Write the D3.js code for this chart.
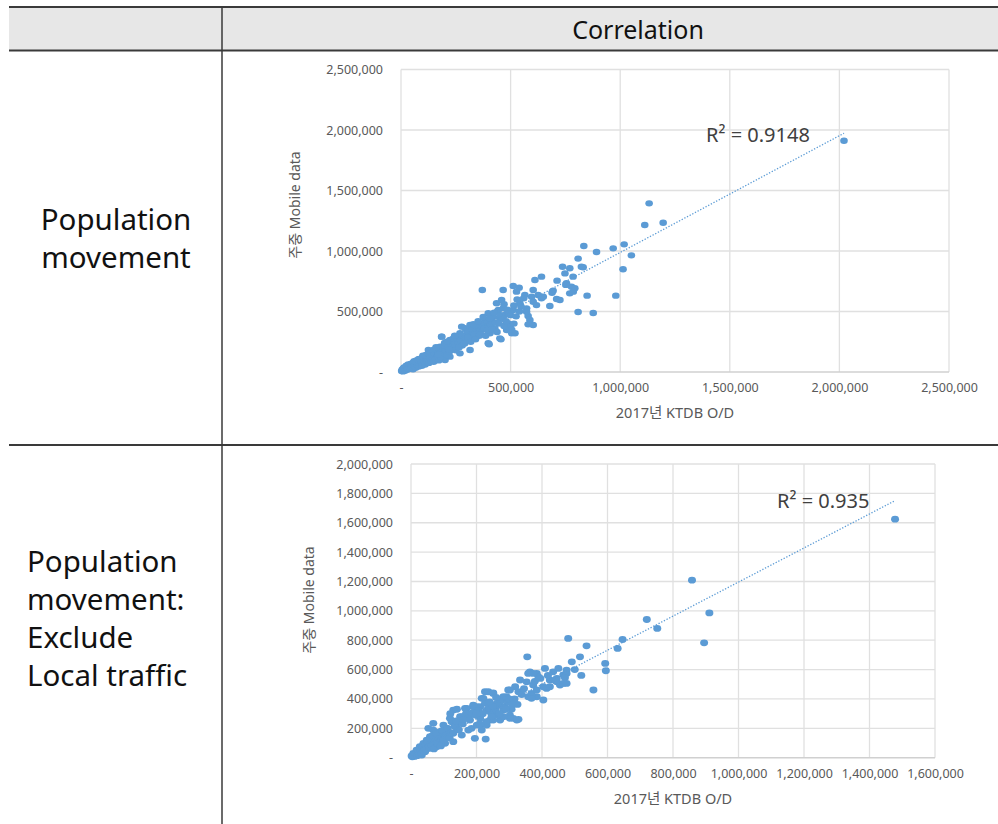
<!DOCTYPE html>
<html>
<head>
<meta charset="utf-8">
<script src="https://cdn.jsdelivr.net/npm/d3@7"></script>
<style>
  html, body { margin: 0; padding: 0; background: #fff; }
  svg { display: block; }
</style>
</head>
<body>
<svg id="chart" width="998" height="824"></svg>
<script>
// ---------- DATA (values in thousands of trips) ----------
const UNIT = 1000;
const headerTitle = "Correlation";
const rowLabels1 = ["Population", "movement"];
const rowLabels2 = ["Population", "movement:", "Exclude", "Local traffic"];
const xAxisTitle = "2017년 KTDB O/D";
const yAxisTitle = "주중 Mobile data";

const xTicks1 = [0, 500000, 1000000, 1500000, 2000000, 2500000];
const yTicks1 = [0, 500000, 1000000, 1500000, 2000000, 2500000];
const xTicks2 = [0, 200000, 400000, 600000, 800000, 1000000, 1200000, 1400000, 1600000];
const yTicks2 = [0, 200000, 400000, 600000, 800000, 1000000, 1200000, 1400000, 1600000, 1800000, 2000000];

const r2Label1 = "R² = 0.9148";
const r2Label2 = "R² = 0.935";
const trend1 = { slope: 0.965, intercept: 23000, xMin: 0, xMax: 2021000 };
const trend2 = { slope: 1.16, intercept: 36000, xMin: 0, xMax: 1478000 };

// Chart 1: Population movement  [KTDB O/D, Mobile data] (thousands)
const popMove = [
  [2021,1911],[1132,1394],[1112,1215],[1196,1234],[1018,1055],[968,1022],[1051,964],[1013,849],[980,631],[834,1041],
  [892,992],[808,937],[831,866],[737,870],[770,857],[748,815],[785,788],[712,755],[641,788],[611,760],
  [755,733],[778,705],[793,692],[694,672],[770,650],[849,631],[710,603],[679,545],[808,496],[877,488],
  [512,711],[466,678],[371,678],[539,697],[527,664],[565,636],[603,678],[596,622],[626,636],[641,609],
  [542,568],[603,581],[618,553],[573,526],[580,463],[588,430],[580,394],[603,388],[512,512],[725,595],
  [786,664],[649,622],[573,498],[823,870],[752,720],[689,655],
  [11,30],[26,44],[41,58],[56,72],[71,85],[87,99],[102,113],[117,127],[132,154],[125,182],
  [147,140],[163,168],[178,209],[185,292],[193,182],[208,223],[223,264],[231,209],[239,278],[254,237],
  [269,320],[277,375],[284,264],[299,347],[315,388],[322,306],[337,375],[345,333],[360,402],[368,347],
  [383,430],[391,375],[398,485],[406,320],[413,416],[421,457],[428,361],[436,568],[444,512],[451,444],
  [459,595],[466,526],[474,471],[482,347],[489,402],[497,375],[505,320],[451,278],[398,237],[315,182],
  [269,154],[223,127],[201,99],[402,229],[456,270],[497,374],[520,320],[186,292],[292,361],
  [3,8],[6,22],[9,5],[12,15],[14,38],[18,10],[21,26],[24,52],[27,18],[30,35],
  [33,62],[36,24],[39,45],[43,30],[46,68],[49,40],[52,55],[55,22],[58,80],[61,48],
  [64,64],[67,35],[70,95],[74,58],[78,74],[81,45],[84,108],[88,66],[92,86],[95,52],
  [98,120],[103,78],[107,96],[110,62],[114,140],[118,88],[122,110],[127,75],[131,125],[136,98],
  [140,165],[144,118],[149,84],[153,148],[158,110],[162,190],[167,132],[172,96],[176,160],[181,125],
  [188,210],[195,150],[199,240],[204,175],[210,140],[216,200],[221,170],[228,230],[235,190],[243,250],
  [248,210],[256,290],[262,240],[271,265],[279,220],[288,300],[296,270],[305,330],[312,290],[326,350],
  [334,310],[349,372],[357,300],[372,395],[380,360],[394,420],[409,392],[418,470],[432,410],[440,500],
  [463,440],[470,560],[485,515],[500,470],[515,550],[530,600],[548,540],[560,610],
  [250,180],[265,205],[280,300],[290,235],[305,285],[318,250],[330,395],[340,270],[352,420],[362,310],
  [375,455],[386,300],[395,345],[405,445],[415,350],[425,490],[438,330],[447,400],[455,470],[470,380],
  [480,420],[490,480],[505,350],[515,400],[525,460],[540,500],[210,250],[220,185],[245,300],[160,205],
  [170,145],[150,185],[135,160],[120,140],[100,135],[80,105],[60,90]
];

// Chart 2: Population movement excluding local traffic (thousands)
const popMoveExLocal = [
  [1478,1624],[858,1209],[911,986],[895,782],[720,941],[752,880],[646,805],[631,744],[593,642],[595,592],
  [480,812],[536,762],[355,687],[516,687],[491,653],[557,461],[409,608],[450,608],[475,597],[465,563],
  [434,585],[424,529],[445,517],[475,506],[455,495],[363,585],[384,574],[389,551],[333,529],[353,517],
  [373,495],[404,483],[414,472],[384,415],[358,415],[404,393],[368,438],[318,483],[302,461],[328,449],
  [292,415],[325,363],[277,393],[262,370],[226,449],[251,438],[216,404],[201,347],[165,336],[129,324],
  [190,347],[231,324],[256,302],[282,324],[302,290],[312,268],[328,261],[272,256],[241,256],[211,268],
  [180,256],[185,200],[211,222],[231,222],[150,279],[119,268],[140,234],[109,200],[129,166],[195,132],
  [228,127],[89,177],[68,188],[99,143],[78,120],[58,143],[48,120],[38,98],[27,75],[17,52],
  [7,30],[2,12],
  [373,574],[384,461],[368,404],[424,483],[465,506],[445,540],[475,574],[323,256],[302,268],[282,279],
  [262,290],[241,313],[211,347],[190,358],[170,336],[155,279],[201,222],[231,245],[251,256],[216,188],
  [175,188],[140,200],[124,245],[99,222],[114,166],[89,154],[63,120],[78,75],[58,64],[43,41],
  [33,18],[104,98],[129,109],[155,154],[68,234],[53,200],[236,449],[221,404],[251,442],[282,415],
  [272,381],[297,461],[358,574],
  [4,6],[8,18],[11,9],[14,28],[19,14],[22,40],[25,22],[29,55],[32,30],[35,70],
  [40,46],[44,88],[47,58],[51,105],[55,72],[59,128],[62,90],[66,150],[70,60],[73,110],
  [77,165],[82,95],[86,130],[91,80],[95,185],[100,120],[106,150],[112,200],[118,135],[123,170],
  [133,215],[138,250],[146,190],[158,230],[168,300],[177,270],[187,305],[197,290],[207,320],[219,300],
  [226,370],[238,340],[246,280],[258,330],[266,355],[287,350],[296,380],[307,330],[316,400],[338,430],
  [345,470],[378,520],[395,540],[418,560],[440,525],[470,545],[500,600],[520,560],
  [120,300],[140,330],[160,260],[200,300],[210,230],[250,350],[270,300],[290,330],[300,400],[310,360],
  [260,410],[240,380]
];

// ---------- DRAW ----------
const svg = d3.select("#chart");
const W = 998, H = 824;
const sans = '"Noto Sans", "Noto Sans CJK KR", sans-serif';

// Table
const colX = 222, tableL = 9, tableR = 998, topY = 7, headY = 50.5, rowY = 445;
svg.append("rect").attr("x", tableL).attr("y", topY).attr("width", tableR - tableL).attr("height", headY - topY)
  .attr("fill", "#e7e7e7");
[[tableL, topY, tableR, topY], [tableL, headY, tableR, headY], [tableL, rowY, tableR, rowY]].forEach(l => {
  svg.append("line").attr("x1", l[0]).attr("y1", l[1]).attr("x2", l[2]).attr("y2", l[3])
    .attr("stroke", "#3a3a3a").attr("stroke-width", 2);
});
svg.append("line").attr("x1", colX).attr("y1", topY).attr("x2", colX).attr("y2", H)
  .attr("stroke", "#3a3a3a").attr("stroke-width", 1.5);

svg.append("text").attr("x", 638).attr("y", 39).attr("text-anchor", "middle")
  .attr("font-family", sans).attr("font-size", 25).attr("fill", "#111").text(headerTitle);

rowLabels1.forEach((t, i) => {
  svg.append("text").attr("x", 116).attr("y", 230 + i * 38).attr("text-anchor", "middle")
    .attr("font-family", sans).attr("font-size", 29.5).attr("fill", "#111").text(t);
});
rowLabels2.forEach((t, i) => {
  svg.append("text").attr("x", 27).attr("y", 572 + i * 38)
    .attr("font-family", sans).attr("font-size", 29.5).attr("fill", "#111")
    .style("white-space", "pre").text(t);
});

function scatter(cfg) {
  const { data, xDomain, yDomain, xRange, yRange, xTicks, yTicks, trend, r2, r2Pos, yTitlePos, xTitleY, rx, ry } = cfg;
  const x = d3.scaleLinear().domain(xDomain).range(xRange);
  const y = d3.scaleLinear().domain(yDomain).range(yRange);
  const fmt = d => d === 0 ? "-" : d3.format(",")(d);
  const g = svg.append("g");

  // gridlines
  g.selectAll(".gx").data(xTicks).join("line")
    .attr("x1", d => x(d)).attr("x2", d => x(d)).attr("y1", y(yDomain[1])).attr("y2", y(0))
    .attr("stroke", "#e0e0e0").attr("stroke-width", 1.3);
  g.selectAll(".gy").data(yTicks).join("line")
    .attr("x1", x(0)).attr("x2", x(xDomain[1])).attr("y1", d => y(d)).attr("y2", d => y(d))
    .attr("stroke", d => d === 0 ? "#d0d0d0" : "#e0e0e0").attr("stroke-width", d => d === 0 ? 1.6 : 1.3);

  // axes (labels only)
  const ax = g.append("g").attr("transform", `translate(0,${y(0)})`)
    .call(d3.axisBottom(x).tickValues(xTicks).tickFormat(fmt).tickSize(0).tickPadding(11));
  ax.select(".domain").remove();
  ax.selectAll("text").attr("font-size", 12.5).attr("fill", "#595959").attr("font-family", sans);
  const ay = g.append("g").attr("transform", `translate(${x(0)},0)`)
    .call(d3.axisLeft(y).tickValues(yTicks).tickFormat(fmt).tickSize(0).tickPadding(18));
  ay.select(".domain").remove();
  ay.selectAll("text").attr("font-size", 12.5).attr("fill", "#595959").attr("font-family", sans);

  // titles
  g.append("text").attr("x", (xRange[0] + xRange[1]) / 2).attr("y", xTitleY).attr("text-anchor", "middle")
    .attr("font-family", sans).attr("font-size", 14.5).attr("fill", "#595959").text(xAxisTitle);
  g.append("text").attr("transform", `translate(${yTitlePos[0]},${yTitlePos[1]}) rotate(-90)`)
    .attr("text-anchor", "middle").attr("font-family", sans).attr("font-size", 14).attr("fill", "#595959")
    .text(yAxisTitle);

  // points
  g.selectAll(".pt").data(data).join("ellipse")
    .attr("cx", d => x(d[0] * UNIT)).attr("cy", d => y(d[1] * UNIT))
    .attr("rx", rx).attr("ry", ry).attr("fill", "#5b9bd5");

  // trend line
  g.append("line")
    .attr("x1", x(trend.xMin)).attr("y1", y(trend.slope * trend.xMin + trend.intercept))
    .attr("x2", x(trend.xMax)).attr("y2", y(trend.slope * trend.xMax + trend.intercept))
    .attr("stroke", "#5b9bd5").attr("stroke-width", 1.3).attr("stroke-dasharray", "1.3,1.7");

  g.append("text").attr("x", r2Pos[0]).attr("y", r2Pos[1]).attr("font-family", sans)
    .attr("font-size", 20).attr("fill", "#404040").text(r2);
}

scatter({
  data: popMove, xDomain: [0, 2500000], yDomain: [0, 2500000],
  xRange: [401, 949], yRange: [372, 69.5], xTicks: xTicks1, yTicks: yTicks1,
  trend: trend1, r2: r2Label1, r2Pos: [706, 142], yTitlePos: [300, 205], xTitleY: 418,
  rx: 3.8, ry: 3.2
});
scatter({
  data: popMoveExLocal, xDomain: [0, 1600000], yDomain: [0, 2000000],
  xRange: [411, 935], yRange: [757.7, 464], xTicks: xTicks2, yTicks: yTicks2,
  trend: trend2, r2: r2Label2, r2Pos: [777, 508], yTitlePos: [314, 600], xTitleY: 804,
  rx: 4, ry: 3.4
});
</script>
</body>
</html>
